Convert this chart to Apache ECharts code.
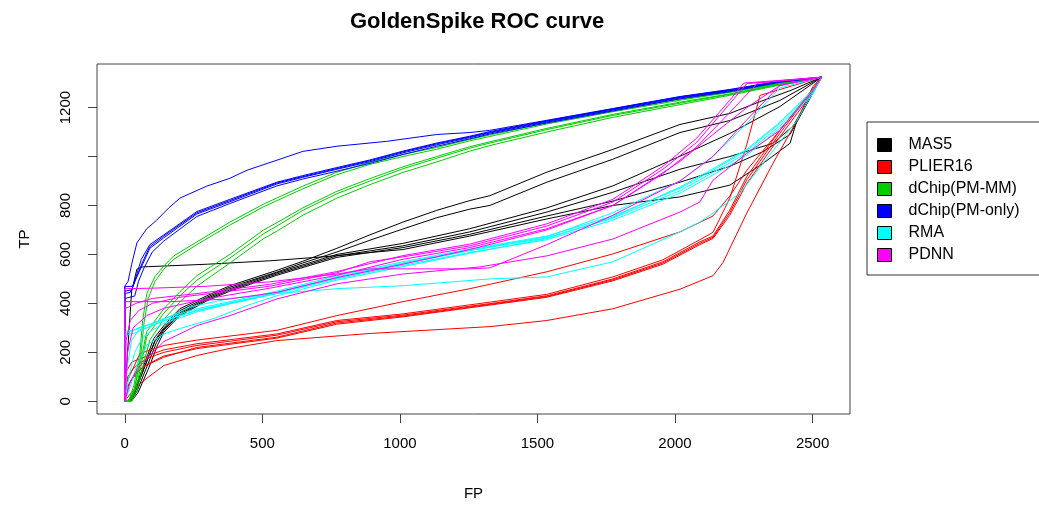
<!DOCTYPE html>
<html>
<head>
<meta charset="utf-8">
<script src="https://cdn.jsdelivr.net/npm/echarts@6/dist/echarts.min.js"></script>
<style>html,body{margin:0;padding:0;background:#fff}#c{width:1039px;height:506px}</style>
</head>
<body>
<div id="c"></div>
<script>
// ---- data (FP, TP) ----
const methods = ['MAS5', 'PLIER16', 'dChip(PM-MM)', 'dChip(PM-only)', 'RMA', 'PDNN'];
const xTicks = [0, 500, 1000, 1500, 2000, 2500];
const yTicks = [0, 200, 400, 600, 800, 1000, 1200];
const yLabels = [0, 200, 400, 600, 800, 1200];

const mas5Curves = [
  [[0,0],[10,200],[25,450],[44,540],[65,549],[300,560],[527,574],[720,590],[1011,620],[1254,675],[1534,745],[1774,800],[2018,835],[2199,883],[2320,972],[2418,1054],[2443,1147],[2533,1324]],
  [[0,0],[15,5],[33,40],[69,146],[105,256],[142,309],[200,378],[298,431],[382,472],[553,535],[647,572],[771,625],[891,680],[1011,732],[1134,780],[1254,820],[1327,840],[1534,936],[1774,1029],[2018,1131],[2199,1176],[2320,1229],[2418,1269],[2533,1324]],
  [[0,0],[18,5],[36,35],[72,140],[110,250],[142,300],[200,370],[298,425],[382,466],[553,528],[647,565],[771,610],[891,658],[1011,704],[1134,750],[1254,785],[1327,800],[1534,895],[1774,989],[2018,1098],[2199,1147],[2381,1229],[2533,1324]],
  [[0,0],[20,5],[40,45],[75,150],[110,245],[142,295],[200,362],[298,420],[382,460],[553,525],[771,600],[1011,645],[1254,705],[1534,790],[1774,880],[2018,1001],[2199,1094],[2381,1204],[2533,1324]],
  [[0,0],[22,3],[44,40],[80,140],[115,240],[142,290],[200,356],[298,415],[382,455],[553,520],[771,594],[1011,635],[1254,692],[1534,773],[1774,854],[2018,948],[2199,1000],[2356,1054],[2428,1123],[2533,1324]],
  [[0,0],[25,2],[48,35],[85,130],[120,232],[142,282],[200,350],[298,410],[382,450],[553,515],[771,588],[1011,628],[1254,682],[1534,757],[1774,818],[2018,895],[2199,960],[2320,1020],[2418,1090],[2533,1324]]
];
const plierCurves = [
  [[0,0],[0,60],[20,110],[55,195],[142,228],[262,250],[553,290],[771,350],[1011,407],[1254,460],[1534,529],[1774,602],[2018,692],[2138,757],[2199,838],[2261,944],[2381,1107],[2479,1245],[2533,1324]],
  [[0,0],[5,120],[25,160],[80,185],[142,210],[262,235],[553,275],[771,330],[1011,357],[1327,405],[1534,437],[1774,508],[1956,578],[2090,660],[2138,690],[2199,830],[2261,1050],[2309,1250],[2533,1324]],
  [[0,0],[10,100],[36,140],[80,175],[142,200],[262,228],[553,270],[771,325],[1011,352],[1327,399],[1534,431],[1774,500],[1956,570],[2090,651],[2138,675],[2199,781],[2261,919],[2381,1107],[2479,1245],[2533,1324]],
  [[0,0],[15,70],[44,120],[80,150],[142,185],[262,215],[553,258],[771,315],[1011,345],[1327,393],[1534,425],[1774,492],[1956,560],[2090,640],[2138,665],[2199,760],[2261,890],[2381,1080],[2479,1230],[2533,1324]],
  [[0,0],[20,30],[44,60],[80,94],[142,146],[262,187],[382,216],[553,248],[891,277],[1327,305],[1534,330],[1774,378],[2018,458],[2138,513],[2174,566],[2261,769],[2356,972],[2443,1147],[2501,1286],[2533,1324]],
  [[0,0],[0,40],[25,90],[65,140],[142,180],[262,220],[553,262],[771,320],[1011,348],[1327,396],[1534,428],[1774,496],[1956,565],[2090,645],[2138,670],[2199,770],[2261,905],[2381,1095],[2479,1240],[2533,1324]]
];
const dchipMMCurves = [
  [[0,0],[15,5],[33,65],[55,200],[65,330],[80,440],[110,510],[142,553],[178,594],[262,651],[382,732],[505,806],[647,879],[771,936],[891,976],[1011,1009],[1134,1037],[1254,1070],[1327,1088],[1534,1138],[1774,1188],[2018,1234],[2199,1264],[2381,1300],[2533,1324]],
  [[0,0],[18,5],[36,55],[58,190],[70,320],[85,420],[110,490],[142,540],[178,580],[262,640],[382,720],[505,795],[647,868],[771,926],[891,968],[1011,1000],[1134,1030],[1254,1064],[1327,1082],[1534,1133],[1774,1183],[2018,1230],[2199,1262],[2381,1298],[2533,1324]],
  [[0,0],[15,0],[33,40],[55,150],[80,285],[142,378],[200,447],[262,513],[382,600],[505,700],[553,730],[647,790],[771,858],[891,910],[1011,958],[1134,1000],[1254,1040],[1327,1060],[1534,1115],[1774,1172],[2018,1222],[2199,1256],[2381,1296],[2533,1324]],
  [[0,0],[20,0],[40,50],[60,150],[80,265],[142,360],[200,430],[262,495],[382,585],[505,685],[553,716],[647,780],[771,848],[891,900],[1011,950],[1134,993],[1254,1034],[1327,1055],[1534,1110],[1774,1168],[2018,1218],[2199,1254],[2381,1294],[2533,1324]],
  [[0,0],[25,0],[44,40],[65,140],[91,250],[142,335],[200,405],[262,470],[382,565],[505,665],[553,695],[647,760],[771,830],[891,885],[1011,935],[1134,978],[1254,1022],[1327,1045],[1534,1100],[1774,1160],[2018,1212],[2199,1250],[2381,1292],[2533,1324]]
];
const dchipPMCurves = [
  [[0,0],[0,470],[12,490],[25,560],[44,647],[80,705],[116,740],[160,790],[200,830],[298,879],[382,911],[444,944],[553,985],[647,1021],[771,1042],[952,1062],[1134,1090],[1254,1098],[1327,1107],[1534,1148],[1774,1196],[2018,1245],[2199,1274],[2381,1308],[2533,1324]],
  [[0,0],[0,468],[30,470],[44,520],[60,580],[91,640],[142,680],[262,775],[382,825],[553,895],[647,922],[771,955],[891,986],[1011,1022],[1134,1055],[1254,1083],[1327,1102],[1534,1146],[1774,1195],[2018,1244],[2199,1272],[2381,1308],[2533,1324]],
  [[0,0],[0,440],[20,445],[40,500],[65,560],[91,625],[142,668],[262,765],[382,815],[553,888],[647,915],[771,948],[891,979],[1011,1015],[1134,1048],[1254,1077],[1327,1096],[1534,1141],[1774,1190],[2018,1239],[2199,1268],[2381,1305],[2533,1324]],
  [[0,0],[0,420],[36,430],[50,490],[70,545],[100,610],[142,655],[262,755],[382,808],[553,880],[647,908],[771,940],[891,972],[1011,1008],[1134,1042],[1254,1072],[1327,1092],[1534,1137],[1774,1186],[2018,1236],[2199,1265],[2381,1303],[2533,1324]],
  [[0,0],[0,450],[25,455],[44,510],[65,570],[91,632],[142,675],[262,770],[382,820],[553,892],[647,918],[771,951],[891,983],[1011,1019],[1134,1052],[1254,1080],[1327,1099],[1534,1144],[1774,1193],[2018,1242],[2199,1270],[2381,1306],[2533,1324]]
];
const rmaCurves = [
  [[0,0],[0,275],[20,285],[50,300],[100,318],[142,335],[236,385],[382,420],[527,438],[771,460],[1011,472],[1327,500],[1534,508],[1774,570],[2018,692],[2090,732],[2138,769],[2236,850],[2320,972],[2443,1147],[2533,1324]],
  [[0,0],[0,285],[30,290],[80,309],[142,338],[262,378],[382,407],[553,450],[771,513],[1011,570],[1254,622],[1534,675],[1774,757],[2018,870],[2138,944],[2261,1025],[2381,1135],[2501,1269],[2533,1324]],
  [[0,0],[10,150],[25,250],[50,290],[80,300],[142,330],[262,372],[382,402],[553,445],[771,505],[1011,562],[1254,615],[1534,668],[1774,748],[2018,860],[2138,935],[2261,1015],[2381,1125],[2501,1262],[2533,1324]],
  [[0,0],[15,100],[36,200],[65,260],[100,290],[142,318],[262,365],[382,398],[553,440],[771,500],[1011,555],[1254,608],[1534,660],[1774,740],[2018,850],[2138,925],[2261,1005],[2381,1115],[2501,1255],[2533,1324]],
  [[0,0],[20,60],[44,150],[80,230],[142,275],[200,297],[324,338],[444,391],[553,431],[771,495],[1011,550],[1254,605],[1534,665],[1774,752],[2018,875],[2138,950],[2261,1030],[2381,1140],[2501,1272],[2533,1324]],
  [[0,0],[0,270],[40,280],[80,300],[142,328],[262,370],[382,400],[553,442],[771,508],[1011,565],[1254,618],[1534,672],[1774,770],[2018,900],[2138,1001],[2261,1135],[2381,1280],[2533,1324]]
];
const pdnnCurves = [
  [[0,0],[0,460],[100,462],[300,470],[527,488],[771,520],[891,541],[1254,541],[1327,545],[1534,640],[1774,760],[2018,900],[2138,1000],[2261,1150],[2381,1290],[2533,1324]],
  [[0,0],[0,407],[164,407],[262,412],[382,418],[553,445],[771,505],[1011,560],[1254,620],[1534,700],[1774,800],[2018,980],[2138,1090],[2261,1200],[2381,1290],[2533,1324]],
  [[0,0],[0,380],[15,385],[40,400],[100,420],[262,440],[527,478],[771,530],[1011,595],[1254,642],[1534,725],[1774,825],[1956,960],[2079,1075],[2199,1230],[2250,1300],[2533,1324]],
  [[0,0],[5,250],[20,330],[50,370],[100,400],[200,425],[382,450],[527,470],[771,525],[891,570],[1011,590],[1254,635],[1534,716],[1774,814],[1956,948],[2079,1058],[2199,1216],[2261,1298],[2533,1324]],
  [[0,0],[10,200],[30,300],[80,350],[142,380],[262,410],[382,435],[527,462],[771,515],[1011,580],[1254,628],[1534,705],[1774,800],[1956,930],[2079,1040],[2199,1180],[2300,1300],[2533,1324]],
  [[0,0],[20,80],[44,130],[80,175],[142,244],[262,309],[382,350],[553,418],[771,480],[1011,520],[1291,549],[1534,594],[1774,663],[2018,773],[2090,814],[2138,903],[2261,1013],[2381,1107],[2501,1269],[2533,1324]]
];
const curvesByMethod = [mas5Curves, plierCurves, dchipMMCurves, dchipPMCurves, rmaCurves, pdnnCurves];

// ---- styles ----
const colors = ['#000000', '#FF0000', '#00CD00', '#0000FF', '#00FFFF', '#FF00FF'];
const FONT = '"Liberation Sans", Arial, Helvetica, sans-serif';

const series = [];
curvesByMethod.forEach((curves, i) => {
  curves.forEach(c => {
    series.push({
      type: 'line', name: methods[i], data: c,
      showSymbol: false, symbol: 'none', smooth: false,
      lineStyle: { color: colors[i], width: 1 },
      itemStyle: { color: colors[i] },
      silent: true, animation: false, clip: true
    });
  });
});

const plain = v => String(v);

const chart = echarts.init(document.getElementById('c'), null, { renderer: 'canvas' });
chart.setOption({
  animation: false,
  backgroundColor: '#fff',
  title: {
    text: 'GoldenSpike ROC curve', left: 345, top: 6,
    textStyle: { fontFamily: FONT, fontSize: 22, fontWeight: 'bold', color: '#000' }
  },
  grid: { left: 97, right: 189, top: 64, bottom: 90, show: true, borderColor: '#444', borderWidth: 1, backgroundColor: 'transparent' },
  legend: {
    data: methods.map((m, i) => ({ name: m, itemStyle: { color: colors[i], borderColor: '#000', borderWidth: 1 } })),
    orient: 'vertical', left: 867, top: 122, icon: 'rect', itemWidth: 14, itemHeight: 13, itemGap: 6,
    selectedMode: false, borderColor: '#333', borderWidth: 1, padding: [15, 60, 12, 10],
    textStyle: { fontFamily: FONT, fontSize: 16, color: '#000', lineHeight: 16, padding: [0, 0, 0, 12] }
  },
  xAxis: {
    type: 'value', min: -101, max: 2636,
    name: 'FP', nameLocation: 'middle', nameGap: 72,
    nameTextStyle: { fontFamily: FONT, fontSize: 15, color: '#000' },
    axisLine: { show: false, onZero: false },
    axisTick: { show: true, length: 9, customValues: xTicks, lineStyle: { color: '#444' } },
    axisLabel: { customValues: xTicks, formatter: plain, margin: 22, fontFamily: FONT, fontSize: 15, color: '#000' },
    splitLine: { show: false }
  },
  yAxis: {
    type: 'value', min: -52, max: 1378,
    name: 'TP', nameLocation: 'middle', nameGap: 65, nameRotate: 90,
    nameTextStyle: { fontFamily: FONT, fontSize: 15, color: '#000' },
    axisLine: { show: false, onZero: false },
    axisTick: { show: true, length: 9, customValues: yTicks, lineStyle: { color: '#444' } },
    axisLabel: { customValues: yLabels, formatter: plain, rotate: 90, margin: 24, fontFamily: FONT, fontSize: 15, color: '#000' },
    splitLine: { show: false }
  },
  series: series
});
</script>
</body>
</html>
